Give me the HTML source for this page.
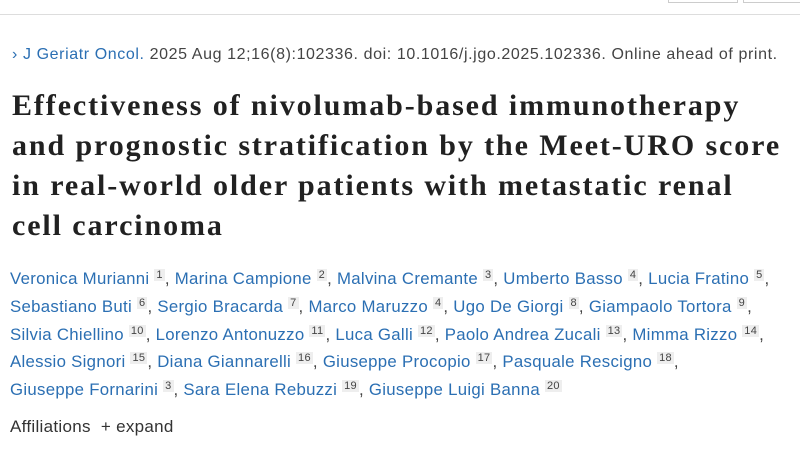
<!DOCTYPE html>
<html><head><meta charset="utf-8"><style>
body{margin:0;width:800px;height:450px;overflow:hidden;background:#fff;font-family:"Liberation Sans",sans-serif;position:relative}
.top{position:absolute;left:0;top:14px;width:800px;height:1px;background:#ddd}
.btn{position:absolute;top:-2px;height:4px;border:1px solid #ccc;border-top:none}
.j{position:absolute;left:12px;top:46px;font-size:16px;color:#444;white-space:nowrap;letter-spacing:0.6px}
.j a{color:#2b6fb3}
.t{position:absolute;left:12px;top:86px;font-family:"Liberation Serif",serif;font-weight:bold;font-size:30px;line-height:40px;color:#212121;white-space:nowrap;letter-spacing:1.9px}
.a{position:absolute;left:10px;top:265px;font-size:16.8px;line-height:27.8px;color:#2b6fb3;white-space:nowrap;letter-spacing:0.3px}
.a sup{font-size:11px;line-height:0;color:#444;background:#eee;padding:0 2px;vertical-align:6px}
.a span{color:#444}
.af{position:absolute;left:10px;top:417px;font-size:17px;color:#333;letter-spacing:0.3px}
</style></head><body>
<div class="top"></div>
<div class="btn" style="left:668px;width:68px"></div>
<div class="btn" style="left:743px;width:60px"></div>
<div class="j"><a>› J Geriatr Oncol.</a> 2025 Aug 12;16(8):102336. doi: 10.1016/j.jgo.2025.102336. Online ahead of print.</div>
<div class="t">Effectiveness of nivolumab-based immunotherapy<br>and prognostic stratification by the Meet-URO score<br>in real-world older patients with metastatic renal<br>cell carcinoma</div>
<div class="a">
Veronica Murianni <sup>1</sup><span>,</span> Marina Campione <sup>2</sup><span>,</span> Malvina Cremante <sup>3</sup><span>,</span> Umberto Basso <sup>4</sup><span>,</span> Lucia Fratino <sup>5</sup><span>,</span><br>
Sebastiano Buti <sup>6</sup><span>,</span> Sergio Bracarda <sup>7</sup><span>,</span> Marco Maruzzo <sup>4</sup><span>,</span> Ugo De Giorgi <sup>8</sup><span>,</span> Giampaolo Tortora <sup>9</sup><span>,</span><br>
Silvia Chiellino <sup>10</sup><span>,</span> Lorenzo Antonuzzo <sup>11</sup><span>,</span> Luca Galli <sup>12</sup><span>,</span> Paolo Andrea Zucali <sup>13</sup><span>,</span> Mimma Rizzo <sup>14</sup><span>,</span><br>
Alessio Signori <sup>15</sup><span>,</span> Diana Giannarelli <sup>16</sup><span>,</span> Giuseppe Procopio <sup>17</sup><span>,</span> Pasquale Rescigno <sup>18</sup><span>,</span><br>
Giuseppe Fornarini <sup>3</sup><span>,</span> Sara Elena Rebuzzi <sup>19</sup><span>,</span> Giuseppe Luigi Banna <sup>20</sup>
</div>
<div class="af">Affiliations &nbsp;+ expand</div>
</body></html>
